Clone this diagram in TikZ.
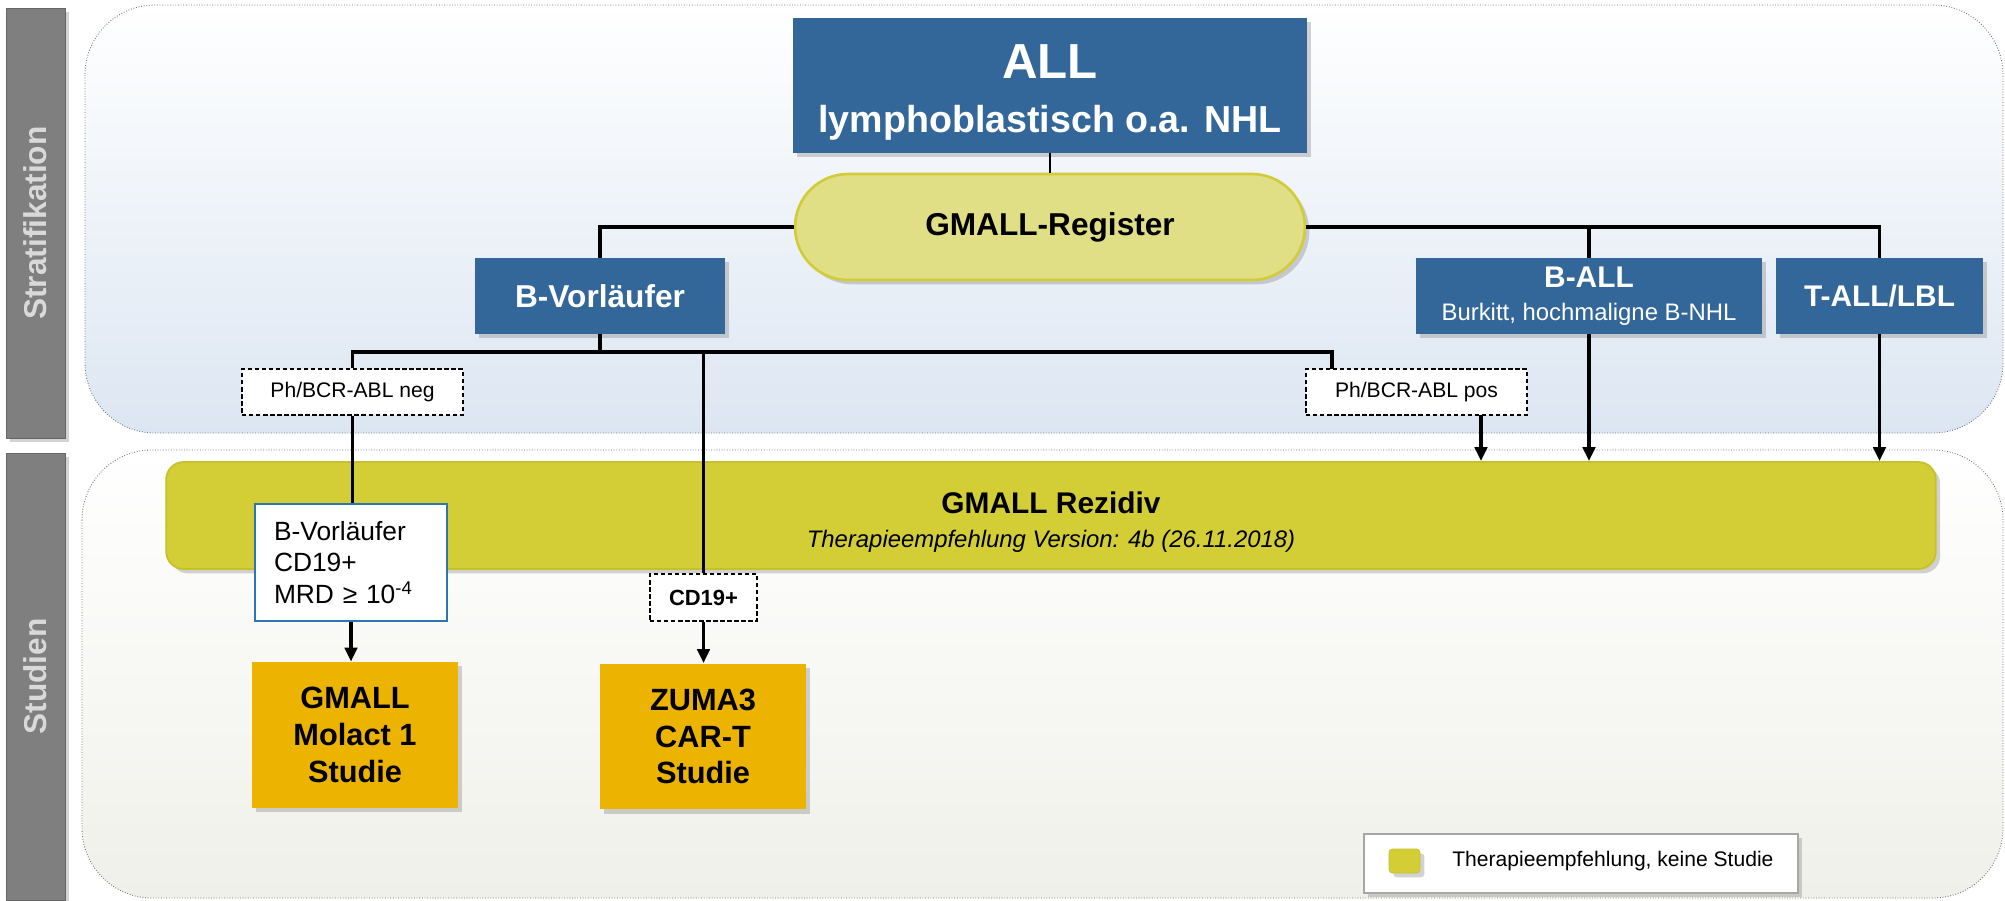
\documentclass[tikz,border=0pt]{standalone}
\usepackage{fontspec}
\setmainfont{Liberation Sans}
\usetikzlibrary{arrows.meta,shadows,calc}
\newcommand{\fsz}[2]{\fontsize{#1}{#2}\selectfont}
\definecolor{allblue}{HTML}{336699}
\definecolor{regfill}{HTML}{E0DF86}
\definecolor{regdraw}{HTML}{D2CB3A}
\definecolor{rezfill}{HTML}{D3CE35}
\definecolor{rezdraw}{HTML}{C6C02C}
\definecolor{studyorange}{HTML}{ECB400}
\definecolor{sidegray}{HTML}{7F7F7F}
\definecolor{sidetext}{HTML}{D9D9D9}
\definecolor{paneltop}{HTML}{DCE6F2}
\definecolor{panelbot}{HTML}{F0F0EA}
\definecolor{critblue}{HTML}{2E75B6}
\tikzset{
%Define standard arrow tip
>={Triangle[length=8pt,width=7pt]},
%Define styles for the boxes
shade/.style={drop shadow={shadow xshift=2.5pt, shadow yshift=-2.5pt, opacity=0.35}},
bluebox/.style={fill=allblue, text=white, inner sep=0pt, align=center, minimum height=1.52cm, shade},
condbox/.style={draw=black, dash pattern=on 2.5pt off 1.5pt, line width=0.8pt, fill=white, inner sep=0pt, minimum height=0.92cm},
studybox/.style={fill=studyorange, inner sep=0pt, minimum width=4.12cm, minimum height=2.92cm, font=\bfseries\fsz{17.5}{21}, align=center, shade},
sidebar/.style={fill=sidegray, draw=sidegray!80!black, rotate=90, text=sidetext, font=\bfseries\fsz{18}{20}, inner sep=0pt, minimum height=1.18cm, shade},
panel/.style={draw=black!55, densely dotted, rounded corners=1.4cm, line width=0.5pt},
%Define style for the lines
connection/.style={line width=2pt},
}

\begin{document}
\begin{tikzpicture}[x=0.02cm,y=-0.02cm]
    \useasboundingbox (0,0) rectangle (2005,900);
    % Panels
    \draw[panel, top color=white, bottom color=paneltop] (85,5) rectangle (2003,433);
    \draw[panel, top color=white, bottom color=panelbot] (82,450) rectangle (2003,898);
    % Side labels
    \node[sidebar, minimum width=8.6cm] (strat) at (35.5,223) {Stratifikation};
    \node[sidebar, minimum width=8.94cm] (stud) at (35.5,676.5) {Studien};
    % Stratification
    \node[bluebox, minimum width=10.28cm, minimum height=2.7cm] (all) at (1050,85.5)
        {{\bfseries\fsz{28}{30}\rule{0pt}{27pt}ALL}\\[14.5pt]{\bfseries\fsz{21.4}{24}lymphoblastisch o.a. NHL}};
    \node[fill=regfill, draw=regdraw, line width=1.5pt, rounded corners=1.06cm, minimum width=10.2cm, minimum height=2.12cm, font=\bfseries\fsz{18}{20}, shade] (reg) at (1050,227) {GMALL-Register};
    \node[bluebox, minimum width=5cm, font=\bfseries\fsz{18}{20}] (bv) at (600,296) {B-Vorläufer};
    \node[bluebox, minimum width=6.92cm] (ball) at (1589,296)
        {{\bfseries\fsz{17}{19}B-ALL}\\[7pt]{\fsz{13.6}{16}Burkitt, hochmaligne B-NHL}};
    \node[bluebox, minimum width=4.14cm, font=\bfseries\fsz{17}{19}] (tall) at (1879.5,296) {T-ALL/LBL};
    \node[condbox, minimum width=4.42cm, font=\fsz{12}{14}] (neg) at (352.5,392) {Ph/BCR-ABL neg};
    \node[condbox, minimum width=4.42cm, font=\fsz{12}{14}] (pos) at (1416.5,392) {Ph/BCR-ABL pos};
    \coordinate (bus) at (600,352);
    \coordinate (posin) at (1332,369);
    \coordinate (posout) at (1481,415);
    % Studies
    \node[fill=rezfill, draw=rezdraw, line width=1pt, rounded corners=0.35cm, minimum width=35.4cm, minimum height=2.14cm, align=center, shade] (rez) at (1051,515.5)
        {{\bfseries\fsz{17}{20}\rule{0pt}{20pt}GMALL Rezidiv}\\[7pt]{\itshape\fsz{13.6}{16}Therapieempfehlung Version: 4b (26.11.2018)}};
    \node[fill=white, draw=critblue, line width=1pt, inner xsep=0.38cm, inner ysep=0pt, text width=3.08cm, minimum height=2.34cm, align=left, font=\fsz{15}{18}] (cdb) at (351,562.5)
        {B-Vorläufer\\CD19+\\MRD ≥ 10\textsuperscript{-4}};
    \node[condbox, minimum width=2.14cm, minimum height=0.94cm, font=\bfseries\fsz{12.5}{14}] (cdp) at (703.5,597.5) {CD19+};
    \node[studybox] (molact) at (355,735) {GMALL\\Molact 1\\Studie};
    \node[studybox] (zuma) at (703,736.5) {ZUMA3\\CAR-T\\Studie};
    % Legend
    \node[fill=white, draw=black!35, line width=0.8pt, minimum width=8.68cm, minimum height=1.18cm, shade] (legend) at (1581,863.5) {};
    \node[fill=rezfill, draw=rezdraw, rounded corners=2pt, minimum width=0.62cm, minimum height=0.48cm, inner sep=0pt, shade] (swatch) at (1404.5,861) {};
    \node[anchor=west, inner sep=0pt, font=\fsz{12}{14}] (legtext) at (1452,861) {Therapieempfehlung, keine Studie};
    % Connections
    \draw[connection, line width=1.4pt] (all.south) -- (reg.north);
    \draw[connection] (reg.west) -| (bv.north);
    \draw[connection] (reg.east) -| (tall.north);
    \draw[connection] (ball.north) -- (ball.north |- reg.east);
    \draw[connection] (bv.south) -- (bus);
    \draw[connection] (neg.north) |- (bus) -| (posin);
    \draw[connection] (cdp.north) -- (cdp.north |- bus);
    \draw[connection] (neg.south) -- (neg.south |- cdb.north);
    \draw[connection,->] (posout) -- (posout |- rez.north);
    \draw[connection,->] (ball.south) -- (ball.south |- rez.north);
    \draw[connection,->] (tall.south) -- (tall.south |- rez.north);
    \draw[connection,->] (cdb.south) -- (cdb.south |- molact.north);
    \draw[connection,->] (cdp.south) -- (cdp.south |- zuma.north);
\end{tikzpicture}
\end{document}
